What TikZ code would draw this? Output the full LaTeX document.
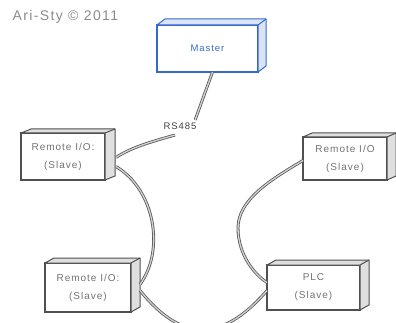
\documentclass[tikz,border=0pt]{standalone}
\usepackage{fontspec}
\setmainfont{Liberation Sans}[LetterSpace=10]
\usetikzlibrary{calc}
\definecolor{mblue}{RGB}{55,105,205}
\definecolor{tgray}{RGB}{115,115,115}
\definecolor{bgray}{RGB}{80,80,80}
\newcommand\boxdepth[4]{%
  \filldraw[line width=1pt, draw=#4, fill=#4!18, line join=round]
    (#1.north west) -- ++(#2,-#3) -- ($(#1.north east)+(#2,-#3)$)
    -- ($(#1.south east)+(#2,-#3)$) -- (#1.south east) -- (#1.north east) -- cycle;
  \draw[line width=1pt, draw=#4] (#1.north east) -- ++(#2,-#3);
}
\begin{document}
\begin{tikzpicture}[x=1pt,y=-1pt,
  unit/.style={draw=bgray, line width=1.2pt, fill=white, outer sep=0pt, inner sep=0pt,
    align=center, text=tgray, font=\fontsize{10}{18}\selectfont},
  cable/.style={draw=black!65, line width=0.8pt, double=gray!35, double distance=1.3pt},
  lbl/.style={inner sep=1.5pt, font=\fontsize{9.5}{11}\selectfont, text=black!75}]
\useasboundingbox[fill=white] (0,0) rectangle (396,323);
\node[text=gray!90, font=\fontsize{14}{16}\selectfont, anchor=west] (title) at (9,17) {Ari-Sty © 2011};
% boxes
\node[unit, draw=mblue, text=mblue, minimum width=101pt, minimum height=47pt,
  font=\fontsize{9.5}{11}\selectfont] (master) at (207.5,48.5) {Master};
\node[unit, minimum width=84pt, minimum height=47pt] (rio1) at (63,156.5) {Remote I/O:\\(Slave)};
\node[unit, minimum width=84pt, minimum height=43pt] (rio2) at (345,158.5) {Remote I/O\\(Slave)};
\node[unit, minimum width=86pt, minimum height=49pt] (rio3) at (88,287.5) {Remote I/O:\\(Slave)};
\node[unit, minimum width=93pt, minimum height=45pt] (plc) at (313.5,287.5) {PLC\\(Slave)};
\boxdepth{master}{8}{6}{mblue}
\boxdepth{rio1}{10}{4}{bgray}
\boxdepth{rio2}{9}{4}{bgray}
\boxdepth{rio3}{9}{5}{bgray}
\boxdepth{plc}{9}{5}{bgray}
% label
\node[lbl] (rs) at (180,126) {RS485};
% cables
\coordinate (mout) at ($(master.south)+(5,0)$);
\coordinate (rsin) at ($(rs.north east)+(-3,-1)$);
\coordinate (rsout) at ($(rs.south)+(-5,4)$);
\draw[cable] (mout) -- (rsin);
\draw[cable] (rsout) .. controls (150,142) and (130,148) .. ($(rio1.east)+(11,1)$);
\draw[cable] ($(rio1.east)+(11,10)$) .. controls (155,190) and (165,250) .. ($(rio3.east)+(9,-3)$);
\draw[cable] ($(rio3.east)+(9,3)$) .. controls (180,340) and (220,345) .. ($(plc.west)+(0,3)$);
\coordinate (bend) at (238,228);
\draw[cable] ($(rio2.west)+(0,2)$) .. controls (270,180) and (238,200) .. (bend)
  .. controls (238,255) and (255,275) .. ($(plc.west)+(0,-5)$);
\end{tikzpicture}
\end{document}
